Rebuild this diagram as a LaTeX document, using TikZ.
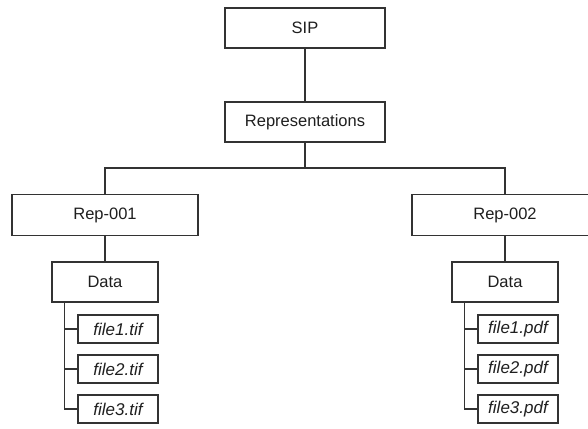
\documentclass[tikz,border=0pt]{standalone}
\usepackage{fontspec}
\setmainfont{Liberation Sans}
\begin{document}
\begin{tikzpicture}[x=1pt,y=-1pt,
  line/.style={draw=black!80,line width=1.2pt},
  box/.style={line,fill=white,inner sep=0pt,text=black!88,
    font=\fontsize{16.5}{19}\selectfont},
  bigbox/.style={box,minimum width=160pt,minimum height=40pt},
  repbox/.style={box,minimum width=186pt,minimum height=41pt},
  databox/.style={box,minimum width=106pt,minimum height=40pt},
  filebox/.style={box,minimum width=80pt,minimum height=28pt,
    font=\fontsize{17}{19}\selectfont\itshape}]
\clip (0,0) rectangle (588,428);
\fill[white] (0,0) rectangle (588,428);

% level of the horizontal bus below Representations
\coordinate (bus) at (305,168);

% top of the tree
\node[bigbox] (sip) at (305,28) {SIP};
\node[bigbox] (reps) at (305,122) {Representations};
\node[repbox] (rep1) at (105,215) {Rep-001};
\node[repbox] (rep2) at (505,215) {Rep-002};
\node[databox] (data1) at (105,282) {Data};
\node[databox] (data2) at (505,282) {Data};

% files of the first representation
\node[filebox] (f11) at (118,329) {file1.tif};
\node[filebox] (f12) at (118,369) {file2.tif};
\node[filebox] (f13) at (118,409) {file3.tif};
% files of the second representation
\node[filebox] (f21) at (518,329) {file1.pdf};
\node[filebox] (f22) at (518,369) {file2.pdf};
\node[filebox] (f23) at (518,409) {file3.pdf};

% tree links
\draw[line] (sip.south) -- (reps.north);
\draw[line] (reps.south) -- (bus) -| (rep1.north);
\draw[line] (reps.south) -- (bus) -| (rep2.north);
\draw[line] (rep1.south) -- (data1.north);
\draw[line] (rep2.south) -- (data2.north);
\coordinate (s1) at ([xshift=13pt]data1.south west);
\coordinate (s2) at ([xshift=13pt]data2.south west);
\draw[line] (s1) |- (f11.west);
\draw[line] (s1) |- (f12.west);
\draw[line] (s1) |- (f13.west);
\draw[line] (s2) |- (f21.west);
\draw[line] (s2) |- (f22.west);
\draw[line] (s2) |- (f23.west);
\end{tikzpicture}
\end{document}
